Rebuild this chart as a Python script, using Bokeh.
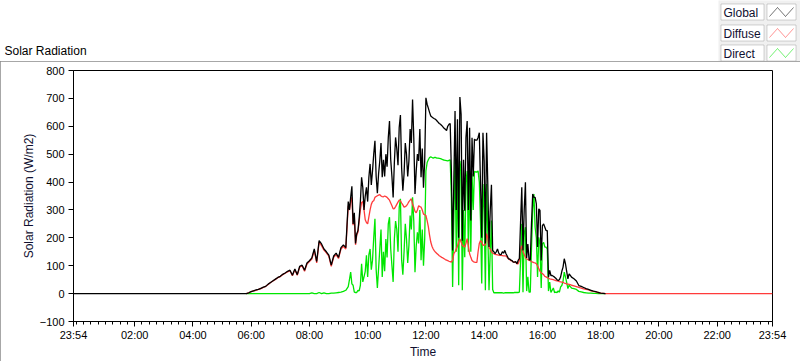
from bokeh.plotting import figure
from bokeh.layouts import column, row
from bokeh.models import Range1d, FixedTicker, Label, BoxAnnotation, PolyAnnotation, ColumnDataSource
from bokeh.embed import file_html
from bokeh.resources import INLINE

# ---------------- data ----------------
DAY_START = -6      # 23:54 of previous day, minutes from midnight
DAY_END = 1434      # 23:54
# sampling of the day-time record: (first minute, step in minutes, number of samples)
time_segments = [(350, 5, 42), (560, 2.5, 185), (1025, 5, 14)]

series_names = ["Global", "Diffuse", "Direct"]

global_rad = [
    # 05:50 - 09:15 (5 min)
    0, 3,
    7, 10, 13, 15, 19, 23, 26, 34, 40, 46, 52, 58,
    62, 69, 74, 80, 84, 66, 88, 68, 98, 102, 84, 110,
    118, 128, 160, 115, 190, 178, 160, 150, 138, 102, 135, 145,
    130, 165, 175, 165,
    # 09:20 - 17:00 (2.5 min)
    330, 300, 345, 385, 250, 290, 180, 215, 226, 270, 330, 417,
    380, 300, 350, 381, 330, 417, 465, 390, 440, 500, 548, 420,
    360, 430, 476, 540, 417, 480, 420, 500, 455, 560, 619, 480,
    420, 345, 470, 560, 520, 460, 596, 640, 450, 369, 430, 540,
    500, 420, 476, 590, 540, 696, 560, 357, 440, 500, 476, 590,
    417, 520, 380, 476, 702, 679, 665, 650, 637, 633, 630, 627,
    625, 620, 615, 610, 607, 603, 598, 593, 589, 585, 600, 607,
    610, 440, 155, 400, 655, 300, 625, 200, 705, 643, 190, 480,
    297, 560, 619, 300, 595, 262, 559, 420, 554, 550, 550, 560,
    577, 393, 200, 577, 476, 180, 577, 393, 167, 298, 390, 155,
    150, 143, 150, 160, 145, 140, 140, 150, 145, 155, 143, 135,
    125, 124, 120, 118, 113, 113, 115, 107, 119, 126, 256, 381,
    155, 300, 399, 128, 178, 122, 120, 250, 357, 345, 345, 322,
    167, 304, 298, 119, 244, 250, 238, 226, 226, 59, 83, 65,
    65, 62, 59, 55, 50, 47, 50, 60, 80, 95, 125, 107,
    80, 53, 71, 65,
    59,
    # 17:05 - 18:10 (5 min)
    53, 45, 29, 26, 22, 18, 15, 12, 9, 7, 4, 2, 1, 0,
]

diffuse_rad = [
    0, 3,
    7, 10, 12, 15, 18, 22, 26, 33, 40, 45, 51, 57,
    61, 68, 73, 78, 82, 64, 86, 66, 95, 100, 80, 106,
    115, 124, 155, 110, 185, 172, 156, 146, 134, 98, 130, 140,
    126, 160, 170, 160,
    315, 300, 330, 345, 245, 280, 175, 210, 220, 260, 300, 327,
    330, 300, 265, 255, 250, 275, 300, 320, 330, 333, 345, 348,
    351, 353, 355, 350, 348, 347, 350, 348, 345, 340, 335, 325,
    315, 304, 305, 312, 320, 328, 335, 333, 325, 318, 310, 312,
    315, 322, 330, 335, 340, 320, 310, 295, 290, 300, 315, 312,
    310, 300, 285, 283, 280, 262, 240, 210, 185, 170, 160, 153,
    148, 144, 140, 136, 133, 130, 128, 125, 122, 120, 118, 116,
    115, 113, 120, 143, 150, 160, 170, 185, 196, 185, 173, 170,
    167, 180, 197, 170, 143, 130, 119, 115, 113, 112, 112, 150,
    180, 190, 185, 173, 175, 175, 215, 200, 165, 160, 150, 145,
    143, 141, 140, 139, 138, 137, 137, 136, 135, 135, 135, 130,
    125, 122, 118, 117, 113, 113, 112, 107, 107, 119, 160, 172,
    150, 140, 131, 125, 122, 119, 118, 115, 113, 111, 110, 107,
    100, 90, 80, 74, 72, 68, 62, 60, 57, 55, 53, 52,
    51, 50, 48, 47, 46, 45, 43, 42, 41, 40, 38, 37,
    35, 34, 33, 32,
    30,
    28, 25, 22, 20, 17, 15, 13, 10, 8, 6, 4, 2, 1, 0,
]

direct_rad = [
    0, 0,
    0, 0, 0, 0, 0, 0, 0, 0, 0, 0, 0, 0,
    0, 0, 0, 0, 0, 0, 0, 0, 0, 0, 0, 0,
    0, 3, 0, 0, 4, 0, 3, 0, 0, 2, 2, 3,
    4, 5, 8, 12,
    25, 50, 77, 35, 30, 5, 4, 4, 12, 10, 30, 107,
    42, 60, 80, 137, 60, 140, 160, 86, 120, 200, 268, 86,
    20, 90, 160, 230, 60, 150, 80, 196, 130, 250, 274, 160,
    100, 42, 196, 260, 230, 150, 309, 340, 120, 68, 150, 250,
    196, 110, 173, 280, 230, 345, 260, 77, 170, 220, 180, 300,
    120, 230, 100, 196, 440, 470, 480, 488, 490, 488, 486, 488,
    488, 486, 486, 485, 484, 482, 480, 479, 478, 477, 476, 478,
    480, 345, 24, 260, 488, 150, 470, 30, 476, 440, 12, 300,
    130, 400, 440, 150, 440, 150, 430, 300, 438, 436, 436, 440,
    400, 260, 36, 393, 300, 12, 393, 220, 12, 150, 262, 15,
    3, 3, 3, 3, 3, 3, 3, 3, 2, 3, 3, 3,
    3, 3, 3, 3, 3, 4, 4, 4, 4, 5, 120, 250,
    5, 215, 238, 9, 60, 5, 5, 160, 300, 357, 238, 200,
    60, 202, 178, 20, 178, 184, 167, 167, 160, 9, 41, 4,
    12, 20, 4, 5, 4, 10, 5, 24, 29, 45, 77, 60,
    40, 18, 30, 25,
    20,
    18, 15, 8, 6, 4, 3, 2, 2, 1, 1, 0, 0, 0, 0,
]

x_major_ticks = [-6, 120, 240, 360, 480, 600, 720, 840, 960, 1080, 1200, 1320, 1434]
x_major_labels = ["23:54", "02:00", "04:00", "06:00", "08:00", "10:00", "12:00",
                  "14:00", "16:00", "18:00", "20:00", "22:00", "23:54"]
x_minor_ticks = list(range(0, 1426, 15))
y_ticks = [-100, 0, 100, 200, 300, 400, 500, 600, 700, 800]

# ---------------- sources ----------------
times = [start + k * step for start, step, n in time_segments for k in range(n)]

src_global = ColumnDataSource(dict(t=[DAY_START] + times, v=[0] + global_rad))
src_diffuse = ColumnDataSource(dict(t=times + [DAY_END], v=diffuse_rad + [0]))
src_direct = ColumnDataSource(dict(t=times, v=direct_rad))

colors = {"Global": "#000000", "Diffuse": "#ff3b3b", "Direct": "#00e600"}
FONT = "Liberation Sans"
TEXT_DARK = "#101030"
LW = 1.3

# ---------------- header row: title + legend ----------------
HEAD_H = 61
TITLE_W = 718
LEG_W = 82

head = figure(width=TITLE_W, height=HEAD_H, output_backend="svg", toolbar_location=None,
              x_range=Range1d(0, TITLE_W), y_range=Range1d(HEAD_H, 0),
              x_axis_type=None, y_axis_type=None, min_border=0,
              outline_line_color=None, background_fill_color="white",
              border_fill_color="white")
head.grid.visible = False
head.add_layout(Label(x=4, y=50, text="Solar Radiation", text_font=FONT,
                      text_font_size="12px", text_color="black",
                      text_baseline="middle", text_align="left"))

leg = figure(width=LEG_W, height=HEAD_H, output_backend="svg", toolbar_location=None,
             x_range=Range1d(0, LEG_W), y_range=Range1d(HEAD_H, 0),
             x_axis_type=None, y_axis_type=None, min_border=0,
             outline_line_color=None, background_fill_color="#f0f0f0",
             border_fill_color="#f0f0f0")
leg.grid.visible = False
row_tops = [3, 24, 44]
for name, top in zip(series_names, row_tops):
    for l, r in ((2.5, 45.5), (48.5, 77.5)):
        leg.add_layout(BoxAnnotation(left=l, right=r, top=top + 0.5, bottom=top + 16.5,
                                     fill_color="white", fill_alpha=1,
                                     line_color="#6e6e6e", line_width=1))
    leg.add_layout(Label(x=5, y=top + 9, text=name, text_font=FONT, text_font_size="12px",
                         text_color=TEXT_DARK, text_baseline="middle", text_align="left"))
    xs = [51, 59, 67, 75, 67, 59]
    ys = [top + 13, top + 4, top + 13, top + 4, top + 13, top + 4]
    leg.add_layout(PolyAnnotation(xs=xs, ys=ys, fill_color=None, fill_alpha=0,
                                  line_color=colors[name], line_width=1))

# ---------------- main chart ----------------
p = figure(width=800, height=300, output_backend="svg", toolbar_location=None,
           x_range=Range1d(DAY_START, DAY_END), y_range=Range1d(-100, 800),
           min_border_left=73, min_border_right=28, min_border_top=9,
           min_border_bottom=39, background_fill_color="white",
           border_fill_color="white")
p.styles = {"outline": "1px solid #8a8a8a", "outline-offset": "-1px"}

p.line("t", "v", source=src_direct, color=colors["Direct"], line_width=LW)
p.line("t", "v", source=src_diffuse, color=colors["Diffuse"], line_width=LW)
p.line("t", "v", source=src_global, color=colors["Global"], line_width=LW)

p.xgrid.grid_line_color = None
p.ygrid.grid_line_color = None
p.outline_line_color = "black"

xa = p.xaxis[0]
xa.ticker = FixedTicker(ticks=x_major_ticks, minor_ticks=x_minor_ticks)
xa.major_label_overrides = dict(zip(x_major_ticks, x_major_labels))
xa.major_tick_in = 0
xa.major_tick_out = 5
xa.minor_tick_in = 0
xa.minor_tick_out = 3
xa.axis_label = "Time"

ya = p.yaxis[0]
ya.ticker = FixedTicker(ticks=y_ticks, minor_ticks=[])
ya.major_tick_in = 0
ya.major_tick_out = 5
ya.minor_tick_line_color = None
ya.axis_label = "Solar Radiation (W/m2)"

for ax in (xa, ya):
    ax.axis_line_color = "black"
    ax.major_tick_line_color = "black"
    ax.major_label_text_font = FONT
    ax.major_label_text_font_size = "11px"
    ax.major_label_text_color = "black"
    ax.axis_label_text_font = FONT
    ax.axis_label_text_font_size = "12px"
    ax.axis_label_text_font_style = "normal"
    ax.axis_label_text_color = TEXT_DARK
    ax.axis_label_standoff = 1
xa.major_label_standoff = 2
ya.major_label_standoff = 4
xa.minor_tick_line_color = "black"

layout = column(row(head, leg), p)

open("out.html", "w").write(file_html(layout, INLINE))
